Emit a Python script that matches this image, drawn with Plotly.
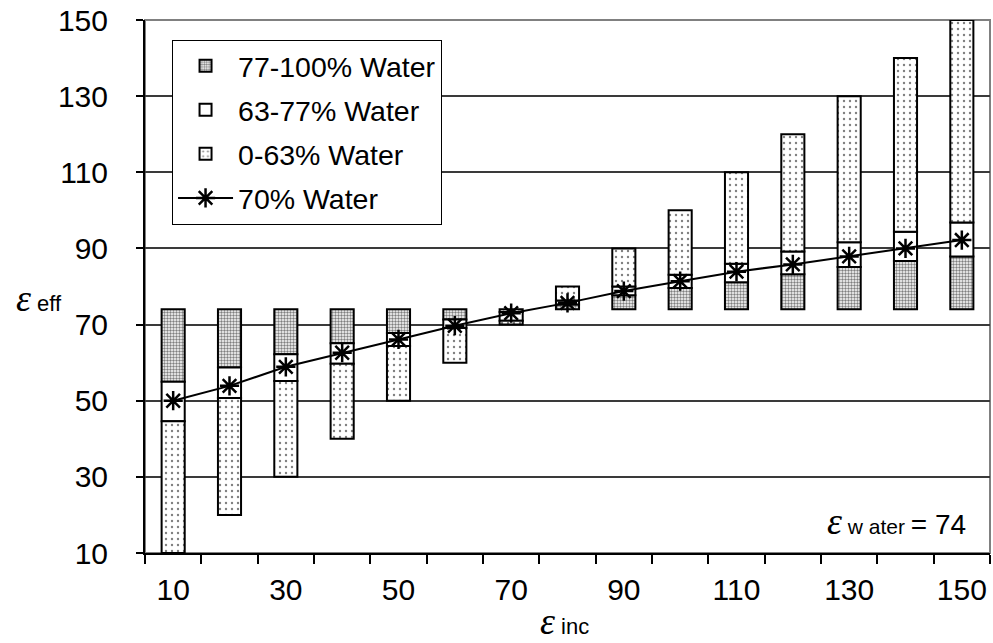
import plotly.graph_objects as go

# ---- data ----
eps_inc = [10, 20, 30, 40, 50, 60, 70, 80, 90, 100, 110, 120, 130, 140, 150]
eps_water = 74
eps_63 = [44.6, 50.7, 55.2, 59.7, 64.4, 69.1, 71.0, 76.3, 80.0, 83.1, 86.0, 89.2, 91.6, 94.4, 96.8]
eps_77 = [55.0, 58.7, 62.2, 65.1, 67.8, 71.3, 73.3, 75.3, 77.7, 79.6, 81.1, 83.2, 85.1, 86.7, 87.9]
eps_70 = [50.0, 53.9, 58.9, 62.6, 66.1, 69.7, 73.0, 75.7, 78.8, 81.4, 83.9, 85.8, 87.9, 90.0, 92.2]
x_ticks = [10, 30, 50, 70, 90, 110, 130, 150]
y_ticks = [10, 30, 50, 70, 90, 110, 130, 150]


def seg(lo, hi):
    base = [min(a, b) for a, b in zip(lo, hi)]
    h = [abs(b - a) for a, b in zip(lo, hi)]
    return base, h


water = [eps_water] * len(eps_inc)
b_top, h_top = seg(eps_77, water)       # 77-100 % water
b_mid, h_mid = seg(eps_63, eps_77)      # 63-77 % water
b_low, h_low = seg(eps_inc, eps_63)     # 0-63 % water

FONT = "Liberation Sans, Arial, sans-serif"
BW = 4.1
line = dict(color="black", width=2)

fig = go.Figure()
fig.add_trace(go.Bar(
    x=eps_inc, y=h_top, base=b_top, width=BW, name="77-100% Water",
    legendgroup="a",
    marker=dict(color="white", line=line,
                pattern=dict(shape=".", fgcolor="black", bgcolor="white", size=3, solidity=0.5)),
))
fig.add_trace(go.Bar(
    x=eps_inc, y=h_mid, base=b_mid, width=BW, name="63-77% Water",
    legendgroup="b",
    marker=dict(color="white", line=line),
))
fig.add_trace(go.Bar(
    x=eps_inc, y=h_low, base=b_low, width=BW, name="0-63% Water",
    legendgroup="c",
    marker=dict(color="white", line=line,
                pattern=dict(shape=".", fgcolor="black", bgcolor="white", size=6, solidity=0.12)),
))
fig.add_trace(go.Scatter(
    x=eps_inc, y=eps_70, mode="lines+markers", name="70% Water",
    legendgroup="d",
    line=dict(color="black", width=2),
    marker=dict(symbol="asterisk-open", size=16, color="black", line=dict(color="black", width=2.5)),
))

fig.update_layout(
    width=993, height=643,
    margin=dict(l=145, r=3, t=17, b=90),
    paper_bgcolor="white", plot_bgcolor="white",
    barmode="overlay",
    font=dict(family=FONT, size=28, color="black"),
    showlegend=True,
    legend=dict(
        x=0.032, y=0.963, xanchor="left", yanchor="top",
        bgcolor="white", bordercolor="black", borderwidth=1,
        font=dict(family=FONT, size=28.5, color="black"),
        tracegroupgap=4, itemwidth=55, traceorder="grouped",
    ),
    xaxis=dict(
        range=[5, 155], tickvals=x_ticks, ticktext=[str(v) for v in x_ticks],
        ticks="", showgrid=False, zeroline=False,
        showline=True, linecolor="black", linewidth=2,
        ticklabelstandoff=9,
        tickfont=dict(family=FONT, size=30, color="black"),
        minor=dict(tickmode="linear", tick0=5, dtick=10, ticks="outside",
                   ticklen=9, tickcolor="black", tickwidth=1.5, showgrid=False),
    ),
    yaxis=dict(
        range=[10, 150], tickvals=y_ticks,
        ticks="outside", ticklen=7, tickcolor="black", tickwidth=1.5,
        showgrid=True, gridcolor="#3a3a3a", gridwidth=1.5, zeroline=False,
        showline=True, linecolor="black", linewidth=2,
        ticklabelstandoff=22,
        tickfont=dict(family=FONT, size=30, color="black"),
    ),
    shapes=[dict(type="rect", xref="paper", yref="paper", x0=0, x1=1, y0=0, y1=1,
                 line=dict(color="#808080", width=2), layer="below")],
    annotations=[
        dict(xref="paper", yref="paper", x=-0.155, y=0.478, xanchor="left", yanchor="middle",
             showarrow=False,
             text="<i><span style='font-family:Liberation Serif;font-size:38px'>ε</span></i>"
                  "<span style='font-size:22px'> eff</span>"),
        dict(xref="paper", yref="paper", x=0.497, y=-0.17, xanchor="center", yanchor="bottom",
             showarrow=False,
             text="<i><span style='font-family:Liberation Serif;font-size:38px'>ε</span></i>"
                  "<span style='font-size:22px'> inc</span>"),
        dict(xref="paper", yref="paper", x=0.974, y=0.06, xanchor="right", yanchor="middle",
             showarrow=False,
             text="<i><span style='font-family:Liberation Serif;font-size:38px'>ε</span></i>"
                  "<span style='font-size:21px'> w ater </span>"
                  "<span style='font-size:28px'>= 74</span>"),
    ],
)

fig.write_html("out.html", config={"displayModeBar": False},
               post_script="document.body.style.margin='0';")
